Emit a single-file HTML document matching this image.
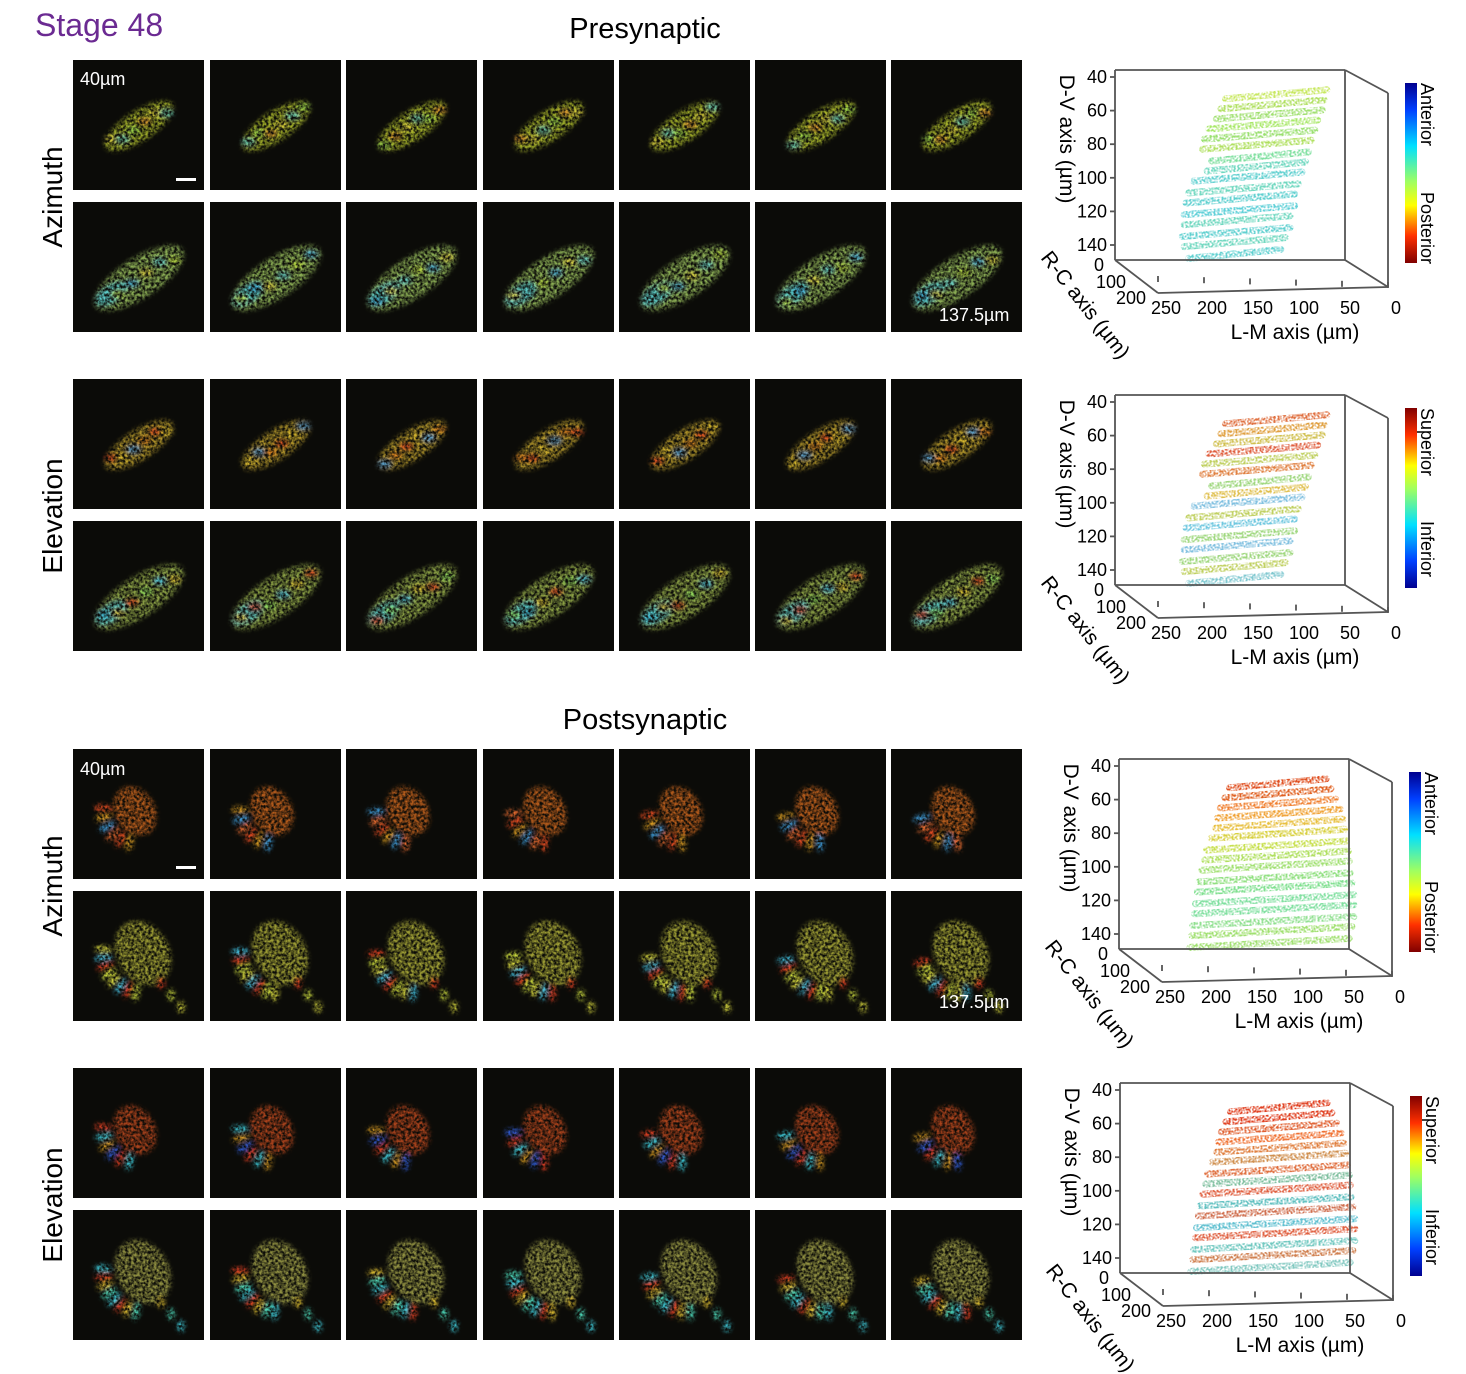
<!DOCTYPE html>
<html><head><meta charset="utf-8">
<style>
body{margin:0;background:#fff;width:1466px;height:1374px;overflow:hidden;font-family:"Liberation Sans",sans-serif;}
svg{display:block}
</style></head>
<body>
<svg id="fig" width="1466" height="1374" viewBox="0 0 1466 1374" xmlns="http://www.w3.org/2000/svg">
<defs>
<filter id="speck" x="-20%" y="-20%" width="140%" height="140%">
 <feGaussianBlur in="SourceGraphic" stdDeviation="2" result="b"/>
 <feTurbulence type="fractalNoise" baseFrequency="0.35" numOctaves="2" seed="3" result="n"/>
 <feColorMatrix in="n" type="matrix" values="0 0 0 0 0  0 0 0 0 0  0 0 0 0 0  0 0 0 2.2 -0.6" result="na"/>
 <feComposite in="b" in2="na" operator="in"/>
</filter>
<filter id="sdots" x="-5%" y="-50%" width="110%" height="200%">
 <feTurbulence type="fractalNoise" baseFrequency="0.5" numOctaves="1" seed="7" result="n"/>
 <feColorMatrix in="n" type="matrix" values="0 0 0 0 0  0 0 0 0 0  0 0 0 0 0  0 0 0 3 -1.0" result="na"/>
 <feComposite in="SourceGraphic" in2="na" operator="in"/>
</filter>
<linearGradient id="jetA" x1="0" y1="0" x2="0" y2="1">
<stop offset="0" stop-color="#00008f"/><stop offset="0.15" stop-color="#0040ff"/><stop offset="0.35" stop-color="#00e0ff"/><stop offset="0.55" stop-color="#a0ff60"/><stop offset="0.68" stop-color="#ffff00"/><stop offset="0.85" stop-color="#ff3000"/><stop offset="1" stop-color="#800000"/>
</linearGradient>
<linearGradient id="jetE" x1="0" y1="1" x2="0" y2="0">
<stop offset="0" stop-color="#00008f"/><stop offset="0.15" stop-color="#0040ff"/><stop offset="0.35" stop-color="#00e0ff"/><stop offset="0.55" stop-color="#a0ff60"/><stop offset="0.68" stop-color="#ffff00"/><stop offset="0.85" stop-color="#ff3000"/><stop offset="1" stop-color="#800000"/>
</linearGradient>
</defs>
<text x="35" y="36" font-size="32" fill="#6b2a92">Stage 48</text>
<text x="645" y="38" font-size="29" text-anchor="middle">Presynaptic</text>
<text x="645" y="729" font-size="29" text-anchor="middle">Postsynaptic</text>
<text transform="translate(62,197) rotate(-90)" font-size="28" text-anchor="middle">Azimuth</text>
<text transform="translate(62,516) rotate(-90)" font-size="28" text-anchor="middle">Elevation</text>
<text transform="translate(62,886) rotate(-90)" font-size="28" text-anchor="middle">Azimuth</text>
<text transform="translate(62,1205) rotate(-90)" font-size="28" text-anchor="middle">Elevation</text>
<g id="tiles"></g>
<g id="plots"></g>
</svg>
<script>
const NS="http://www.w3.org/2000/svg";
function mk(tag,attrs,parent){const e=document.createElementNS(NS,tag);for(const k in attrs)e.setAttribute(k,attrs[k]);parent.appendChild(e);return e;}
const colX=[73,210,346,483,619,755,891];
const rowY=[60,202,379,521,749,891,1068,1210];
const rowKind=["pa","pa","pe","pe","qa","qa","qe","qe"];
const rowMain=["#b8c830","#a0c860","#c8a830","#a0b850","#e07020","#c0c040","#d05020","#b0b050"];
const rowAcc=[
 ["#e0d040","#60d0c0","#a0e050","#e09030"],
 ["#60d0d0","#c0e040","#40b0e0","#e0d040"],
 ["#e04020","#e0c030","#40a0e0","#e08020"],
 ["#40c0e0","#e0c030","#e04020","#90e060"],
 ["#f05020","#e0a020","#40a0e0","#f07030"],
 ["#e0e040","#40c0e0","#e04020","#d0e040"],
 ["#e04020","#40d0e0","#e0a020","#3060e0"],
 ["#40d0e0","#e04020","#e0c030","#50e0c0"]
];
const tilesG=document.getElementById('tiles');
rowY.forEach((y,ri)=>{
 colX.forEach((x,ci)=>{
  const g=mk('g',{},tilesG);
  
  
  mk('rect',{x:x,y:y,width:131,height:130,fill:'#0b0b08'},g);
  const kind=rowKind[ri];const acc=rowAcc[ri];
  const second=ri%2===1;
  const cp=mk('clipPath',{id:'c'+ri+'_'+ci},g);mk('rect',{x:x,y:y,width:131,height:130},cp);
  const inner=mk('g',{'clip-path':'url(#c'+ri+'_'+ci+')',filter:'url(#speck)'},g);
  if(kind[0]==='p'){
   const cx=x+66, cy=y+(second?76:66);
   const rx=second?52:40, ry=second?20:15;
   mk('ellipse',{cx:cx,cy:cy,rx:rx,ry:ry,fill:rowMain[ri],opacity:0.85,transform:`rotate(-33 ${cx} ${cy})`},inner);
   if(second){mk('ellipse',{cx:cx-28,cy:cy+16,rx:18,ry:9,fill:'#50c8d0',opacity:0.85,transform:`rotate(-33 ${cx-28} ${cy+16})`},inner);}
   for(let k=0;k<6;k++){
    const t=(k-2.5)*(second?14:11);
    mk('ellipse',{cx:cx+t,cy:cy-t*0.62+((k*7+ci*3)%9-4),rx:7,ry:4,fill:acc[(k+ci)%4],opacity:0.9},inner);
   }
  } else {
   const cx=x+(second?70:62), cy=y+(second?62:62);
   mk('ellipse',{cx:cx,cy:cy,rx:second?26:20,ry:second?34:26,fill:rowMain[ri],opacity:0.8,transform:`rotate(-30 ${cx} ${cy})`},inner);
   const n=second?8:6;
   for(let k=0;k<n;k++){
    const ang=(175+k*(85/(n-1))+ci*3)*Math.PI/180, r=second?40:32;
    const px=cx+Math.cos(ang)*r, py=cy-Math.sin(ang)*r;
    const deg=-ang*180/Math.PI;
    mk('ellipse',{cx:px,cy:py,rx:9,ry:4,fill:acc[(k+ci)%4],transform:`rotate(${deg} ${px} ${py})`},inner);
   }
   if(second){
    for(let k=0;k<3;k++){const px=cx+18+k*10,py=cy+30+k*12;mk('ellipse',{cx:px,cy:py,rx:4,ry:6,fill:acc[(k+2)%4]},inner);}
   }
  }
 });
});
const lab1=(x,y,t)=>{const e=mk('text',{x:x,y:y,'font-size':18,fill:'#fff'},tilesG);e.textContent=t;};
lab1(80,85,'40µm');lab1(939,321,'137.5µm');lab1(80,775,'40µm');lab1(939,1008,'137.5µm');
let sb=mk('rect',{x:176,y:178,width:20,height:3,fill:'#fff'},tilesG);
sb=mk('rect',{x:176,y:866,width:20,height:3,fill:'#fff'},tilesG);

const dvTicks=[40,60,80,100,120,140];
const lmTicks=[250,200,150,100,50,0];
const rcTicks=[0,100,200];
const sliceDV=[50,56,62,68,74,80,87,93,99,106,112,119,125,132,138,145];
const preLMStart=[145,150,155,163,168,170,160,165,180,185,188,190,190,192,190,185];
const preLMEnd=[35,38,40,45,48,52,55,58,62,66,70,70,75,75,80,85];
const postLMStart=[145,150,155,158,160,165,170,172,175,178,180,182,183,185,186,188];
const postLMEnd=[40,35,30,25,22,20,18,16,15,14,12,10,10,10,12,15];
const colPreAz=["#c8e860","#b0e060","#a0e070","#a8e868","#9ae070","#b0e060","#80e0a0","#70d8c0","#60d0d0","#70d8c0","#60d0d0","#60d0d8","#70d8c0","#60d0d0","#70d8c0","#60d0d0"];
const colPreEl=["#e07040","#e0a040","#d0c050","#e06040","#c0d060","#e08040","#a0d880","#e0c050","#80c0e0","#c0d060","#70c8e0","#a0d880","#80c0e0","#a0d880","#c0d060","#80c8d0"];
const colPostAz=["#e05020","#e06020","#f08030","#f0a030","#e8c040","#d8d040","#c8e050","#b0e060","#a0e070","#90e080","#80e090","#80e0a0","#80e0a0","#90e090","#a0e070","#a0e070"];
const colPostEl=["#e04020","#e04020","#e06030","#f07030","#e08040","#d09050","#e07040","#80c0a0","#e06040","#60c0c0","#d07050","#60c0d0","#e06040","#70c8c0","#d08050","#80c8c0"];

const plotsG=document.getElementById('plots');
function plot3d(dx,dy,cb,lblTop,lblBot,lmS,lmE,cols,name){
 const g=mk('g',{transform:`translate(${dx},${dy})`},plotsG);
 
 
 const xLM=lm=>1345-lm*0.92;
 const yDV=dv=>77+(dv-40)*1.68;
 const L=(x1,y1,x2,y2)=>mk('line',{x1,y1,x2,y2,stroke:'#555','stroke-width':1.8},g);
 const sg=mk('g',{filter:'url(#sdots)'},g);
 sliceDV.forEach((dv,i)=>{
  const s=mk('line',{x1:xLM(lmS[i])+14,y1:yDV(dv)+5,x2:xLM(lmE[i])+14,y2:yDV(dv)-4,stroke:cols[i],'stroke-width':7,'stroke-linecap':'round'},sg);
  
  
 });
 L(1115,70,1345,70);L(1115,70,1115,260);L(1345,70,1345,260);L(1115,260,1345,260);
 L(1345,70,1388,93);L(1388,93,1388,287);L(1345,260,1388,287);L(1158,293,1388,287);L(1115,260,1158,293);
 dvTicks.forEach(v=>{const y=yDV(v);L(1110,y,1115,y);
  const t=mk('text',{x:1107,y:y+6,'font-size':18,'text-anchor':'end'},g);t.textContent=v;
  });
 lmTicks.forEach(v=>{const x=1388-v*0.92;L(x,288-v*0.024,x,282-v*0.024);
  const t=mk('text',{x:x+8,y:314,'font-size':18,'text-anchor':'middle'},g);t.textContent=v;
  });
 rcTicks.forEach((v,i)=>{const t=mk('text',{x:[1104,1126,1146][i],y:[271,288,304][i],'font-size':18,'text-anchor':'end'},g);t.textContent=v;
  });
 const tx=(x,y,rot,s,anchor)=>{const t=mk('text',{transform:`translate(${x},${y}) rotate(${rot})`,'font-size':21,'text-anchor':anchor||'middle'},g);t.textContent=s;return t;};
 tx(1060,139,90,'D-V axis (µm)');
 tx(1040,258,52,'R-C axis (µm)','start');
 tx(1295,339,0,'L-M axis (µm)');
 const bar=mk('rect',{x:1405,y:83,width:12,height:180,fill:'url(#'+cb+')'},g);
 
 const a=mk('text',{transform:'translate(1421,83) rotate(90)','font-size':18},g);a.textContent=lblTop;
 
 const b=mk('text',{transform:'translate(1421,'+(lblBot==='Posterior'?192:196)+') rotate(90)','font-size':18},g);b.textContent=lblBot;
 
}
plot3d(0,0,'jetA','Anterior','Posterior',preLMStart,preLMEnd,colPreAz,'pre-azimuth-3d-plot');
plot3d(0,325,'jetE','Superior','Inferior',preLMStart,preLMEnd,colPreEl,'pre-elevation-3d-plot');
plot3d(4,689,'jetA','Anterior','Posterior',postLMStart,postLMEnd,colPostAz,'post-azimuth-3d-plot');
plot3d(5,1013,'jetE','Superior','Inferior',postLMStart,postLMEnd,colPostEl,'post-elevation-3d-plot');
</script>
</body></html>
